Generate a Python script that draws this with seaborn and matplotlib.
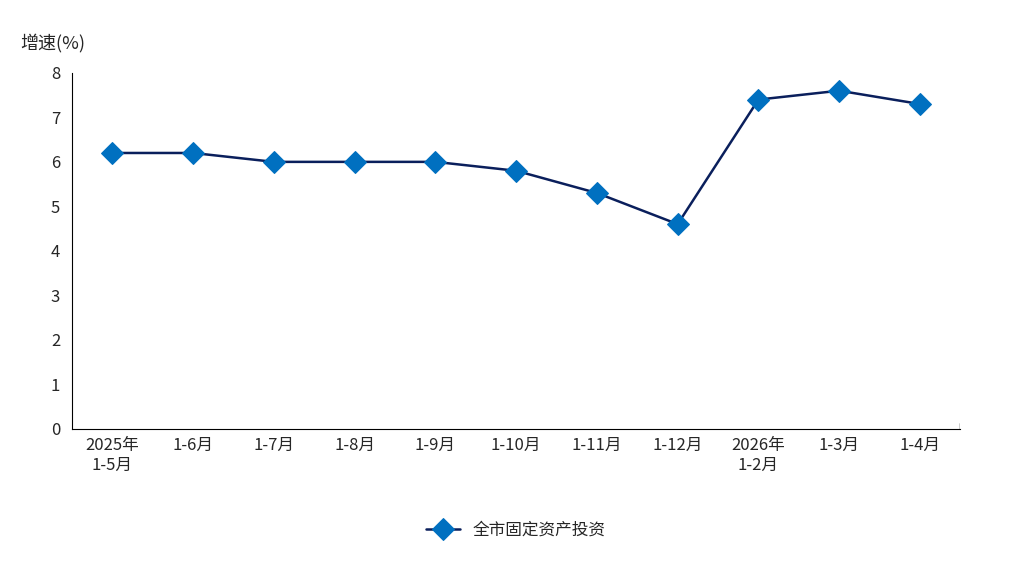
import matplotlib
matplotlib.use("Agg")
import matplotlib.pyplot as plt
import seaborn as sns
import pandas as pd
import numpy as np

categories = ["2025年\n1-5月", "1-6月", "1-7月", "1-8月", "1-9月", "1-10月", "1-11月", "1-12月", "2026年\n1-2月", "1-3月", "1-4月"]
values = [6.2, 6.2, 6.0, 6.0, 6.0, 5.8, 5.3, 4.6, 7.4, 7.6, 7.3]
series_name = "全市固定资产投资"

sns.set_style("white")
plt.rcParams['font.family'] = ['Noto Sans CJK SC', 'DejaVu Sans']

df = pd.DataFrame({"x": np.arange(len(categories)), "y": values})
fig = plt.figure(figsize=(10.13, 5.74), dpi=100)
ax = fig.add_axes([0.071, 0.253, 0.877, 0.62])
sns.lineplot(data=df, x="x", y="y", ax=ax, color="#0a1f5c", linewidth=1.8,
             marker="D", markersize=11, markerfacecolor="#0070c0",
             markeredgecolor="#0070c0", label=series_name)
ax.set_xlim(-0.5, len(categories) - 0.5)
ax.set_ylim(0, 8)
ax.set_yticks(range(0, 9))
ax.set_xticks(range(len(categories)))
ax.set_xticklabels(categories, fontsize=12, linespacing=1.2)
ax.set_xticks(np.arange(0.5, len(categories)), minor=True)
ax.tick_params(axis="x", which="major", length=0, pad=6)
ax.tick_params(axis="x", which="minor", length=6, direction="in", color="black")
ax.tick_params(axis="y", length=5, direction="out", color="black", labelsize=12)
ax.set_xlabel("")
ax.set_ylabel("")
for s in ["top"]:
    ax.spines[s].set_visible(False)
ax.spines["right"].set_visible(False)
for s in ["left", "bottom"]:
    ax.spines[s].set_color("black")
ax.plot([1], [0], transform=ax.transAxes)  # no-op anchor
ax.axvline(len(categories) - 0.5, ymin=0, ymax=0.017, color="black", linewidth=1)
fig.text(0.02, 0.915, "增速(%)", fontsize=13)
leg = ax.legend(loc="upper center", bbox_to_anchor=(0.5, -0.22), frameon=False, fontsize=12)
fig.savefig("out.png", dpi=100)
